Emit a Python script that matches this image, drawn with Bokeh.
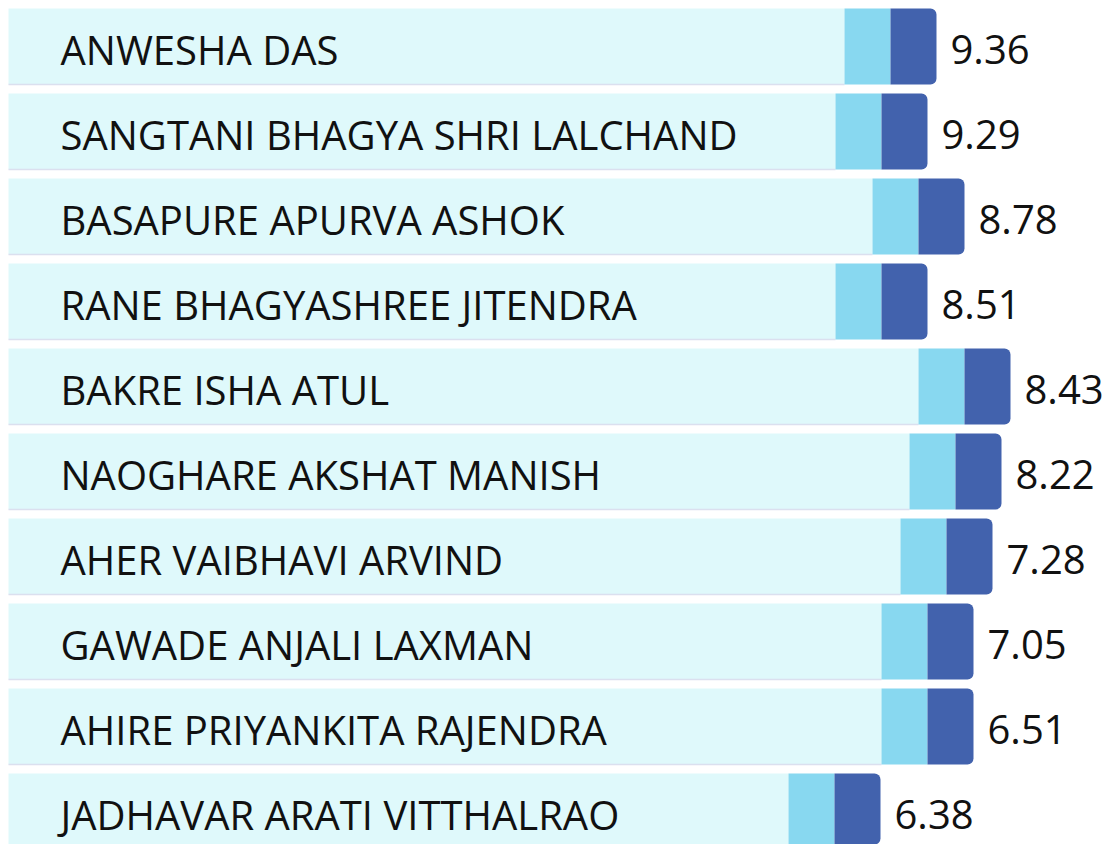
from bokeh.plotting import figure
from bokeh.models import Range1d, ColumnDataSource
from bokeh.embed import file_html
from bokeh.resources import INLINE
from bokeh.core.properties import value

names = ["ANWESHA DAS", "SANGTANI BHAGYA SHRI LALCHAND", "BASAPURE APURVA ASHOK",
         "RANE BHAGYASHREE JITENDRA", "BAKRE ISHA ATUL", "NAOGHARE AKSHAT MANISH",
         "AHER VAIBHAVI ARVIND", "GAWADE ANJALI LAXMAN", "AHIRE PRIYANKITA RAJENDRA",
         "JADHAVAR ARATI VITTHALRAO"]
scores = [9.36, 9.29, 8.78, 8.51, 8.43, 8.22, 7.28, 7.05, 6.51, 6.38]
base_len = [836, 827, 864, 827, 910, 901, 892, 873, 873, 780]
mid_len = [46, 46, 46, 46, 46, 46, 46, 46, 46, 46]
dark_len = [46, 46, 46, 46, 46, 46, 46, 46, 46, 46]

W, H = 1109, 844
rows = list(range(len(names)))
mid_end = [b + m for b, m in zip(base_len, mid_len)]
dark_end = [e + d for e, d in zip(mid_end, dark_len)]

pitch = 85.0
bh = 76.0 / pitch
src = ColumnDataSource(dict(
    y=rows, name=names, score=[f"{s:.2f}" for s in scores],
    base=base_len, mid_end=mid_end, dark_end=dark_end,
    ybot=[r + bh / 2 for r in rows],
))

top = -46.0 / pitch
p = figure(width=W, height=H, output_backend="svg", toolbar_location=None,
           x_range=Range1d(-8, W - 8), y_range=Range1d(top + H / pitch, top),
           min_border=0)
p.axis.visible = False
p.grid.visible = False
p.outline_line_color = None
p.background_fill_color = "white"
p.border_fill_color = "white"

p.hbar(y="y", left=0, right="base", height=bh, source=src,
       fill_color="#dff9fb", line_color=None)
p.segment(x0=0, x1="base", y0="ybot", y1="ybot", source=src,
          line_color="#dbe0ef", line_width=1.5)
p.hbar(y="y", left="base", right="mid_end", height=bh, source=src,
       fill_color="#88d8f0", line_color=None)
p.hbar(y="y", left="mid_end", right="dark_end", height=bh, source=src,
       fill_color="#4262ad", line_color=None, border_radius=(0, 6, 6, 0))

p.text(x=52, y="y", text="name", source=src, text_font=value("Open Sans"),
       text_font_size="40px", text_color="#111111", text_baseline="alphabetic",
       text_align="left", y_offset=3)
p.text(x="dark_end", y="y", text="score", source=src, text_font=value("Open Sans"),
       text_font_size="40px", text_color="#111111", text_baseline="alphabetic",
       text_align="left", x_offset=14, y_offset=3)

open("out.html", "w").write(file_html(p, INLINE))
